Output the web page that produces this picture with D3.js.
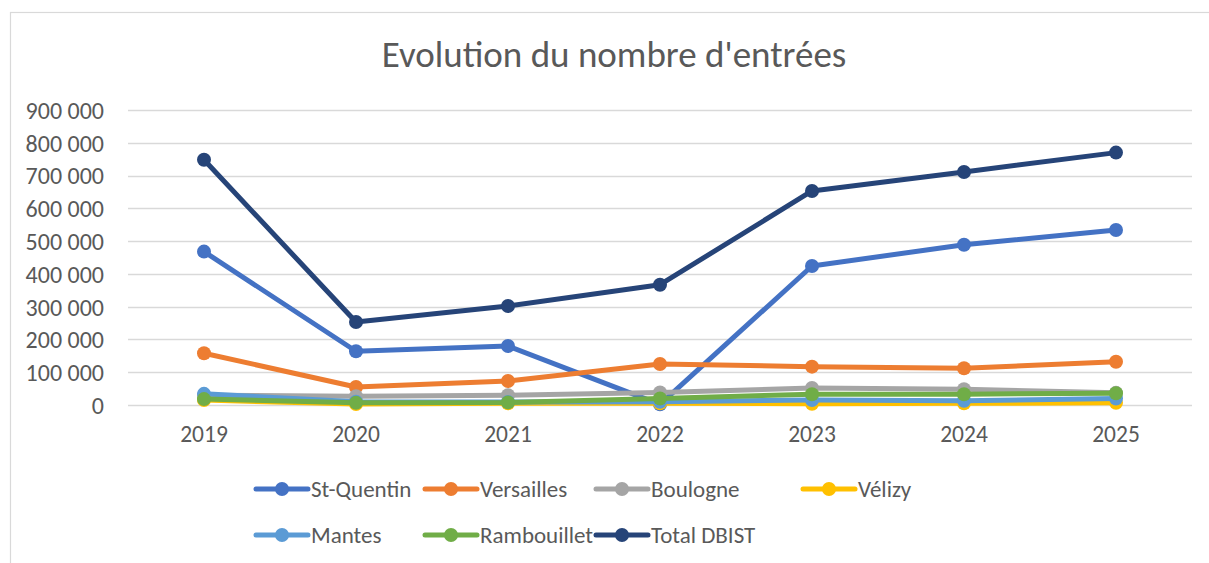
<!DOCTYPE html>
<html>
<head>
<meta charset="utf-8">
<script src="https://cdn.jsdelivr.net/npm/d3@7"></script>
<style>
  html, body { margin: 0; padding: 0; background: #fff; }
  svg { display: block; }
  text { font-family: Carlito, Calibri, Lato, "Open Sans", sans-serif; fill: #595959; }
</style>
</head>
<body>
<svg id="chart" width="1209" height="563"></svg>
<script>
const title = "Evolution du nombre d'entrées";
const years = ["2019", "2020", "2021", "2022", "2023", "2024", "2025"];
const yTicks = [0, 100000, 200000, 300000, 400000, 500000, 600000, 700000, 800000, 900000];
const seriesNames = ["St-Quentin", "Versailles", "Boulogne", "Vélizy", "Mantes", "Rambouillet", "Total DBIST"];
const seriesColors = ["#4472C4", "#ED7D31", "#A5A5A5", "#FFC000", "#5B9BD5", "#70AD47", "#264478"];
const stQuentin   = [468000, 164000, 180000, 2000, 424000, 489000, 534000];
const versailles  = [158000, 55000, 73000, 125000, 117000, 112000, 132000];
const boulogne    = [30000, 27000, 30000, 38000, 52000, 48000, 37000];
const velizy      = [15000, 3000, 5000, 5000, 4000, 5000, 7000];
const mantes      = [34000, 10000, 9000, 10000, 15000, 13000, 20000];
const rambouillet = [18000, 7000, 8000, 20000, 33000, 33000, 36000];
const totalDBIST  = [748000, 253000, 302000, 367000, 653000, 711000, 770000];
const seriesValues = [stQuentin, versailles, boulogne, velizy, mantes, rambouillet, totalDBIST];

const svg = d3.select("#chart");

// chart frame (extends past the visible area on the right and bottom)
svg.append("rect")
  .attr("x", 10.5).attr("y", 12.5)
  .attr("width", 1400).attr("height", 800)
  .attr("fill", "none").attr("stroke", "#D9D9D9").attr("stroke-width", 1.2);

// title
svg.append("text")
  .attr("x", 614).attr("y", 67)
  .attr("text-anchor", "middle")
  .style("font-size", "37px")
  .text(title);

const x = d3.scaleBand().domain(years).range([128, 1192]);
const y = d3.scaleLinear().domain([0, 900000]).range([405, 110]);

const fmt = v => d3.format(",")(v).replace(/,/g, " ");

// gridlines
svg.append("g").selectAll("line")
  .data(yTicks).join("line")
  .attr("x1", 128).attr("x2", 1192)
  .attr("y1", d => Math.round(y(d)) + 0.5).attr("y2", d => Math.round(y(d)) + 0.5)
  .attr("stroke", "#D9D9D9").attr("stroke-width", 1.5);

// y axis labels
const yAxis = d3.axisLeft(y).tickValues(yTicks).tickFormat(fmt).tickSize(0).tickPadding(0);
const gy = svg.append("g").attr("transform", "translate(104,0)").call(yAxis);
gy.select(".domain").remove();
gy.selectAll("text").style("font-size", "24px").attr("fill", "#595959").attr("dy", "0.35em");

// x axis labels
const xAxis = d3.axisBottom(x).tickSize(0).tickPadding(0);
const gx = svg.append("g").attr("transform", "translate(0,424)").call(xAxis);
gx.select(".domain").remove();
gx.selectAll("text").style("font-size", "23.5px").attr("fill", "#595959").attr("dy", "0.75em");

const cx = d => x(d) + x.bandwidth() / 2;
const line = d3.line().x((d, i) => cx(years[i])).y(d => y(d));

seriesValues.forEach((vals, si) => {
  const g = svg.append("g");
  g.append("path")
    .attr("d", line(vals))
    .attr("fill", "none")
    .attr("stroke", seriesColors[si])
    .attr("stroke-width", 5)
    .attr("stroke-linejoin", "round");
  g.selectAll("circle").data(vals).join("circle")
    .attr("cx", (d, i) => cx(years[i]))
    .attr("cy", d => y(d))
    .attr("r", 7)
    .attr("fill", seriesColors[si]);
});

// legend
const legendPos = [
  [256, 489], [425, 489], [596, 489], [803, 489],
  [256, 535], [425, 535], [596, 535]
];
seriesNames.forEach((name, i) => {
  const [lx, ly] = legendPos[i];
  const g = svg.append("g").attr("transform", `translate(${lx},${ly})`);
  g.append("line").attr("x1", 0).attr("x2", 52).attr("y1", 0).attr("y2", 0)
    .attr("stroke", seriesColors[i]).attr("stroke-width", 5).attr("stroke-linecap", "round");
  g.append("circle").attr("cx", 26).attr("cy", 0).attr("r", 7).attr("fill", seriesColors[i]);
  g.append("text").attr("x", 55).attr("y", 0).attr("dy", "0.35em")
    .style("font-size", "23px").text(name);
});
</script>
</body>
</html>
